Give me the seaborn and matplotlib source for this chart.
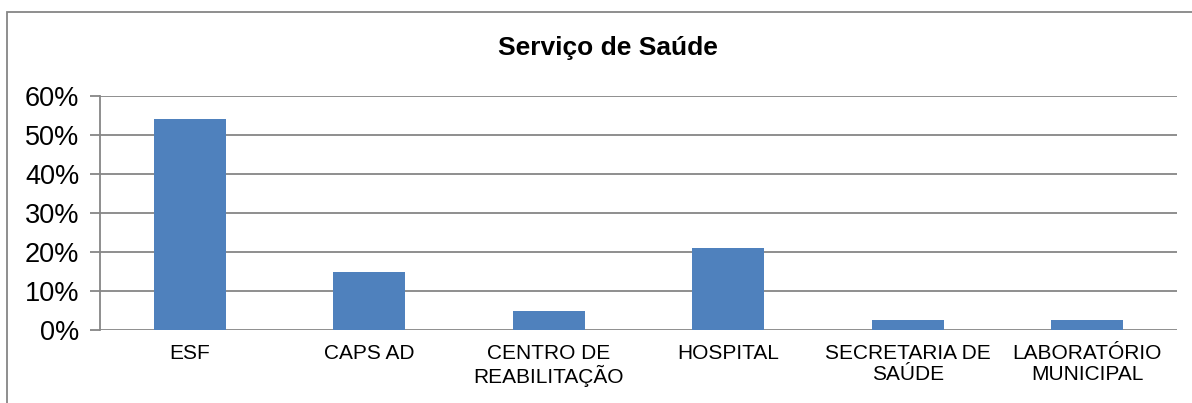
import matplotlib
matplotlib.use("Agg")
import matplotlib.pyplot as plt
from matplotlib.patches import Rectangle
from matplotlib.ticker import FuncFormatter
import seaborn as sns
import pandas as pd

categories = ["ESF", "CAPS AD", "CENTRO DE\nREABILITAÇÃO", "HOSPITAL",
              "SECRETARIA DE\nSAÚDE", "LABORATÓRIO\nMUNICIPAL"]
values = [54, 15, 5, 21, 2.5, 2.5]
yticks = [0, 10, 20, 30, 40, 50, 60]
title = "Serviço de Saúde"

sns.set_theme(style="white")
plt.rcParams['font.family'] = ['Liberation Sans', 'DejaVu Sans']
plt.rcParams['text.color'] = 'black'
plt.rcParams['xtick.color'] = 'black'
plt.rcParams['ytick.color'] = 'black'

df = pd.DataFrame({"cat": categories, "val": values})

fig = plt.figure(figsize=(11.92, 4.03), dpi=100)
ax = fig.add_axes([100/1192, 1-330/403, 1077/1192, 234/403])

sns.barplot(data=df, x="cat", y="val", color="#4F81BD", width=0.4,
            saturation=1, ax=ax, zorder=3, linewidth=0)

grid_c = "#868686"
ax.set_ylim(0, 60)
ax.set_yticks(yticks)
ax.yaxis.set_major_formatter(FuncFormatter(lambda v, p: f"{int(v)}%"))
ax.grid(axis="y", color=grid_c, linewidth=1.3, zorder=0)
ax.set_axisbelow(True)
for s in ["top", "right", "bottom"]:
    ax.spines[s].set_visible(False)
ax.spines["left"].set_color(grid_c)
ax.spines["left"].set_linewidth(1.3)
ax.tick_params(axis="y", length=7, width=1.3, color=grid_c, labelcolor="black",
               labelsize=19.5, pad=8, left=True)
ax.tick_params(axis="x", length=0, labelsize=15, labelcolor="black", pad=10)
ax.set_xlabel("")
ax.set_ylabel("")
for lbl in ax.get_xticklabels():
    lbl.set_linespacing(1.12)
ax.set_xlim(-0.5, 5.5)

fig.text(608/1192, 1-48/403, title, ha="center", va="center",
         fontsize=19, fontweight="bold", color="black")

rect = Rectangle((7/1192, -0.2), 1.2, 1.2 - 12/403, transform=fig.transFigure,
                 fill=False, edgecolor=grid_c, linewidth=1.3, clip_on=False)
fig.patches.append(rect)

fig.savefig("out.png", dpi=100)
